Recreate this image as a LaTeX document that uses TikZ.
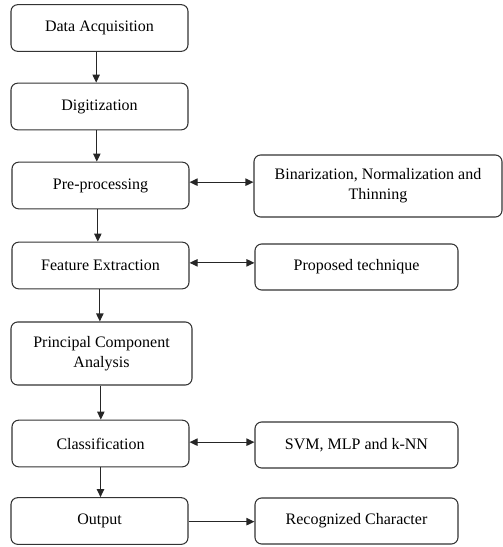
\documentclass[tikz,border=0pt]{standalone}
\usepackage{fontspec}
\setmainfont{Liberation Serif}
\newfontfamily\tnr{Liberation Serif}
\usetikzlibrary{arrows.meta}
\begin{document}
\begin{tikzpicture}[x=0.75pt,y=-0.75pt,
  box/.style={draw=black!80,line width=0.8pt,rounded corners=5pt,align=center,font=\tnr\fontsize{12}{15}\selectfont,inner sep=2pt},
  lbox/.style={box,minimum width=132.75pt,minimum height=35pt},
  rbox/.style={box,minimum width=152.25pt,minimum height=34.5pt},
  arr/.style={draw=black!85,line width=0.8pt,-{Triangle[length=6pt,width=5.5pt]}},
  darr/.style={draw=black!85,line width=0.8pt,{Triangle[length=6pt,width=5.5pt]}-{Triangle[length=6pt,width=5.5pt]}}]
\useasboundingbox (0,0) rectangle (503,547);
\node[lbox] (A) at (99.5,28) {Data Acquisition};
\node[lbox] (B) at (99.5,106.5) {Digitization};
\node[lbox] (C) at (100.5,185.5) {Pre-processing};
\node[box,minimum width=186pt,minimum height=46.5pt] (Bin) at (378,186) {Binarization, Normalization and\\Thinning};
\node[lbox] (D) at (100.5,265.5) {Feature Extraction};
\node[rbox] (PT) at (356.5,267) {Proposed technique};
\node[box,minimum width=135.75pt,minimum height=47.25pt] (PCA) at (101.5,353.5) {Principal Component\\Analysis};
\node[lbox] (Cl) at (100.5,443.5) {Classification};
\node[rbox] (SVM) at (356.5,445) {SVM, MLP and k-NN};
\node[lbox] (Out) at (99.5,521) {Output};
\node[rbox] (RC) at (356.5,521) {Recognized Character};
\draw[arr] ([xshift=-2.5pt]A.south) -- ([xshift=-2.5pt]A.south |- B.north);
\draw[arr] ([xshift=-2pt]B.south) -- ([xshift=-2pt]B.south |- C.north);
\draw[arr] ([xshift=-2pt]C.south) -- ([xshift=-2pt]C.south |- D.north);
\draw[arr] ([xshift=-0.5pt]D.south) -- ([xshift=-0.5pt]D.south |- PCA.north);
\draw[arr] ([xshift=-0.5pt]PCA.south) -- ([xshift=-0.5pt]PCA.south |- Cl.north);
\draw[arr] (Cl.south) -- (Cl.south |- Out.north);
\draw[darr] ([yshift=2.5pt]C.east) -- ([yshift=2.5pt]C.east -| Bin.west);
\draw[darr] ([yshift=2pt]D.east) -- ([yshift=2pt]D.east -| PT.west);
\draw[darr] ([yshift=1pt]Cl.east) -- ([yshift=1pt]Cl.east -| SVM.west);
\draw[arr] ([yshift=-0.5pt]Out.east) -- ([yshift=-0.5pt]Out.east -| RC.west);
\end{tikzpicture}
\end{document}
